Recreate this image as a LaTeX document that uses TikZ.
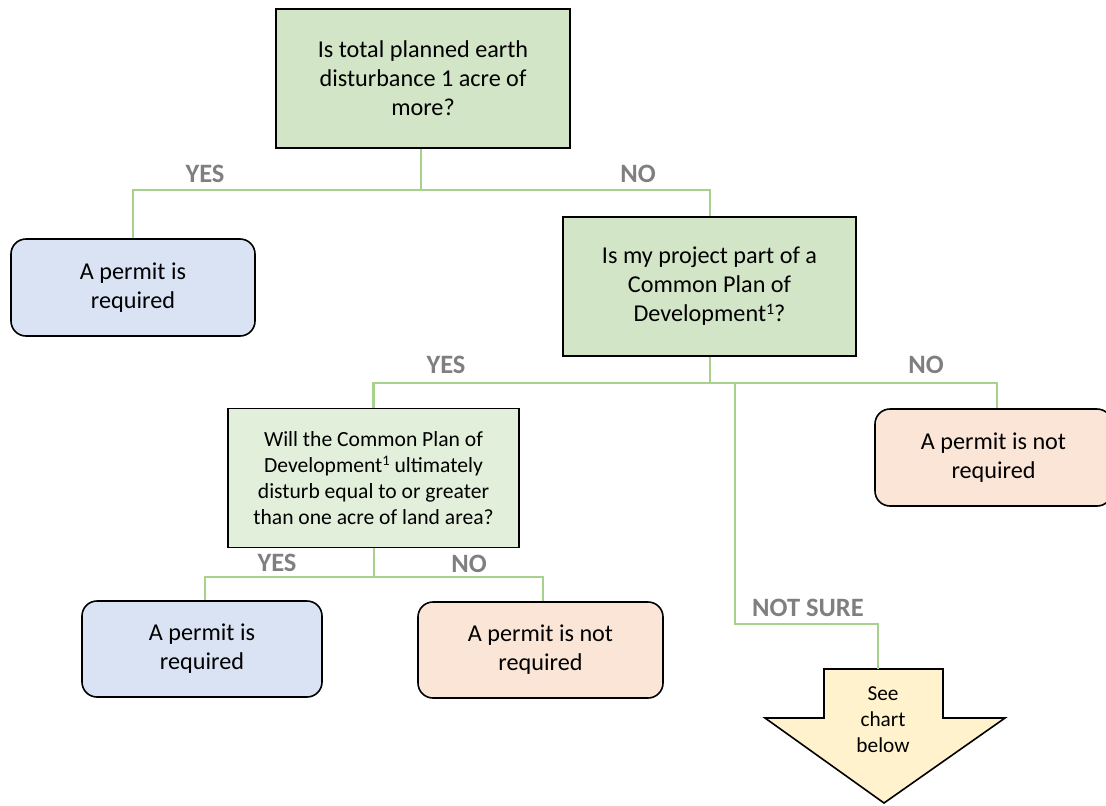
\documentclass[tikz,border=0pt]{standalone}
\usepackage{fontspec}
\setmainfont{Carlito}
\definecolor{qgreen}{HTML}{D2E5C6}
\definecolor{qgreenlight}{HTML}{E2EFDA}
\definecolor{ablue}{HTML}{DAE3F3}
\definecolor{apeach}{HTML}{FBE5D6}
\definecolor{ayellow}{HTML}{FFF2CC}
\definecolor{linkgreen}{HTML}{A9D18E}
\definecolor{lblgray}{HTML}{7F7F7F}
\newcommand{\supone}{\raisebox{7pt}{\fontsize{16}{16}\selectfont 1}}
\newcommand{\suponesmall}{\raisebox{6.5pt}{\fontsize{14.5}{14.5}\selectfont 1}}
\begin{document}
\begin{tikzpicture}[x=1pt,y=-1pt,
  qbox/.style={draw=black, line width=1.6pt, fill=qgreen, align=center, inner sep=0pt,
     font=\fontsize{24.2}{29}\selectfont},
  qsmall/.style={draw=black, line width=1.6pt, fill=qgreenlight, align=center, inner sep=0pt,
     font=\fontsize{21.6}{26}\selectfont},
  ansbox/.style={draw=black, line width=1.6pt, rounded corners=15pt, align=center, inner sep=0pt,
     font=\fontsize{24.2}{29}\selectfont},
  link/.style={draw=linkgreen, line width=2.6pt},
  lbl/.style={text=lblgray, font=\fontsize{26.5}{30}\selectfont\bfseries, inner sep=0pt}
]
\useasboundingbox (0,0) rectangle (1106,806);

% question boxes
\node[qbox, minimum width=294pt, minimum height=139pt] (q1) at (423,78.5)
  {Is total planned earth\\disturbance 1 acre of\\more?};
\node[qbox, minimum width=293pt, minimum height=139pt] (q2) at (709.5,286.5)
  {Is my project part of a\\Common Plan of\\Development\supone?};
\node[qsmall, minimum width=291pt, minimum height=139pt] (q3) at (373.5,478)
  {Will the Common Plan of\\Development\suponesmall{} ultimately\\disturb equal to or greater\\than one acre of land area?};

% answer boxes
\node[ansbox, fill=ablue, minimum width=244pt, minimum height=97pt] (a1) at (133,287.5)
  {A permit is\\required};
\node[ansbox, fill=apeach, minimum width=237pt, minimum height=97pt] (a2) at (993.5,457.5)
  {A permit is not\\required};
\node[ansbox, fill=ablue, minimum width=240pt, minimum height=96pt] (a3) at (202,649)
  {A permit is\\required};
\node[ansbox, fill=apeach, minimum width=245pt, minimum height=96pt] (a4) at (540.5,650)
  {A permit is not\\required};

% arrow "see chart below"
\draw[black, line width=1.6pt, fill=ayellow, line join=miter]
  (824,669) -- (943,669) -- (943,718) -- (1005,718) -- (884,803) -- (765,718) -- (824,718) -- cycle;
\coordinate (arrtop) at (878,669);
\node[align=center, inner sep=0pt, font=\fontsize{21.3}{26}\selectfont] (see) at (883,720)
  {See\\chart\\below};

% junctions
\coordinate (j1) at (421,190);
\coordinate (j2) at (710,383);
\coordinate (j3) at (374,577);
\coordinate (ns) at (735,383);
\coordinate (nsk) at (735,624);

% connectors
\draw[link] (q1.south -| j1) -- (j1);
\draw[link] (a1.north) |- (j1) -| (q2.north -| j2);
\draw[link] (q2.south -| j2) -- (j2);
\draw[link] (q3.north) |- (j2) -| ([xshift=3.5pt]a2.north);
\draw[link] (ns) -- (nsk) -| (arrtop);
\draw[link] (q3.south -| j3) -- (j3);
\draw[link] ([xshift=3pt]a3.north) |- (j3) -| ([xshift=2.5pt]a4.north);

% labels
\node[lbl] (l1) at (205,174) {YES};
\node[lbl] (l2) at (638,174) {NO};
\node[lbl] (l3) at (446,365) {YES};
\node[lbl] (l4) at (926,365) {NO};
\node[lbl] (l5) at (277,563) {YES};
\node[lbl] (l6) at (469,564) {NO};
\node[lbl] (l7) at (808,608) {NOT SURE};
\end{tikzpicture}
\end{document}
